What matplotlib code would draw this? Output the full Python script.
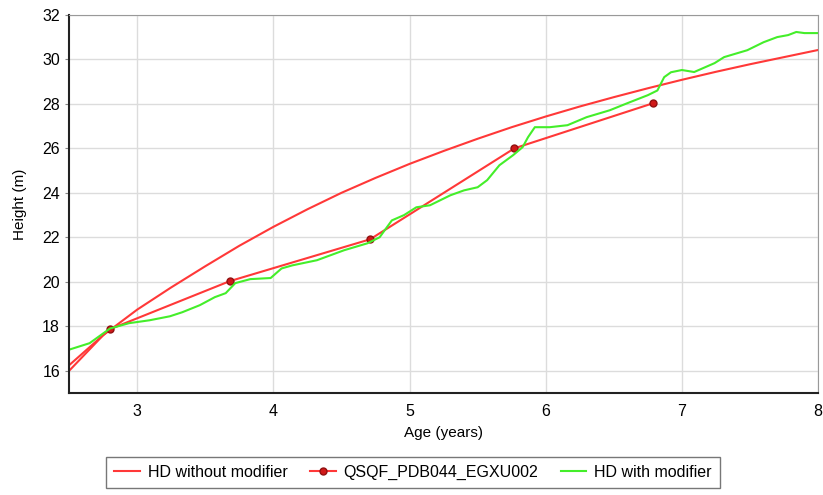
import matplotlib.pyplot as plt

plt.rcParams['font.family'] = ['Liberation Sans', 'DejaVu Sans']

# HD without modifier
age_hd = [2.5, 2.75, 3.0, 3.25, 3.5, 3.75, 4.0, 4.25, 4.5, 4.75, 5.0, 5.25,
          5.5, 5.75, 6.0, 6.25, 6.5, 6.75, 7.0, 7.25, 7.5, 7.75, 8.0]
h_hd = [16.0, 17.6, 18.75, 19.75, 20.7, 21.62, 22.47, 23.26, 24.0, 24.67, 25.3, 25.88,
        26.43, 26.95, 27.43, 27.88, 28.3, 28.7, 29.08, 29.44, 29.78, 30.1, 30.42]

# QSQF_PDB044_EGXU002 (first point has no marker)
age_obs = [2.5, 2.8, 3.68, 4.71, 5.77, 6.79]
h_obs = [16.25, 17.87, 20.03, 21.91, 26.0, 28.03]

# HD with modifier
age_mod = [2.49, 2.65, 2.8, 2.94, 3.09, 3.24, 3.33, 3.46, 3.57, 3.65, 3.72, 3.83,
           3.98, 4.06, 4.14, 4.32, 4.52, 4.69, 4.78, 4.87, 4.96, 5.05, 5.15, 5.3,
           5.4, 5.5, 5.57, 5.66, 5.76, 5.83, 5.87, 5.92, 6.03, 6.16, 6.3, 6.47,
           6.6, 6.75, 6.82, 6.87, 6.92, 7.0, 7.09, 7.24, 7.31, 7.48, 7.6, 7.7,
           7.78, 7.84, 7.9, 8.0]
h_mod = [16.93, 17.24, 17.9, 18.14, 18.27, 18.45, 18.63, 18.95, 19.31, 19.49, 19.94, 20.12,
         20.17, 20.6, 20.74, 20.97, 21.42, 21.73, 22.0, 22.76, 23.0, 23.35, 23.44, 23.89,
         24.11, 24.25, 24.57, 25.24, 25.69, 26.05, 26.5, 26.95, 26.95, 27.04, 27.4, 27.71,
         28.03, 28.39, 28.6, 29.2, 29.42, 29.52, 29.43, 29.83, 30.1, 30.41, 30.77, 31.0,
         31.09, 31.23, 31.18, 31.18]

fig = plt.figure(figsize=(8.23, 4.95), dpi=100)
ax = fig.add_axes([0.084, 0.206, 0.910, 0.764])

ax.plot(age_hd, h_hd, color='#ff3838', lw=1.5, label='HD without modifier')
ax.plot(age_obs, h_obs, color='#ff3838', lw=1.5, marker='o', ms=5,
        markerfacecolor='#d01818', markeredgecolor='#901010', markevery=range(1, 6),
        label='QSQF_PDB044_EGXU002')
ax.plot(age_mod, h_mod, color='#44ee2a', lw=1.5, label='HD with modifier')

ax.set_xlim(2.5, 8)
ax.set_ylim(15, 32)
ax.set_xticks([3, 4, 5, 6, 7, 8])
ax.set_yticks([16, 18, 20, 22, 24, 26, 28, 30, 32])
ax.grid(True, color='#dcdcdc', lw=1)
ax.set_axisbelow(True)
ax.tick_params(labelsize=11.5, length=3, color='#888888')
ax.tick_params(axis='x', length=0, pad=8)
for s in ['top', 'right']:
    ax.spines[s].set_color('#999999')
for s in ['left', 'bottom']:
    ax.spines[s].set_linewidth(1.5)
    ax.spines[s].set_color('#222222')

ax.set_xlabel('Age (years)', fontsize=11, labelpad=5)
ax.set_ylabel('Height (m)', fontsize=11, labelpad=11)

leg = fig.legend(loc='center', bbox_to_anchor=(0.502, 0.046), ncol=3, fontsize=11.5,
                 frameon=True, fancybox=False, edgecolor='#555555', handlelength=1.6,
                 columnspacing=1.4, handletextpad=0.5, borderpad=0.5)
leg.get_frame().set_linewidth(1.0)

fig.savefig('out.png', dpi=100)
